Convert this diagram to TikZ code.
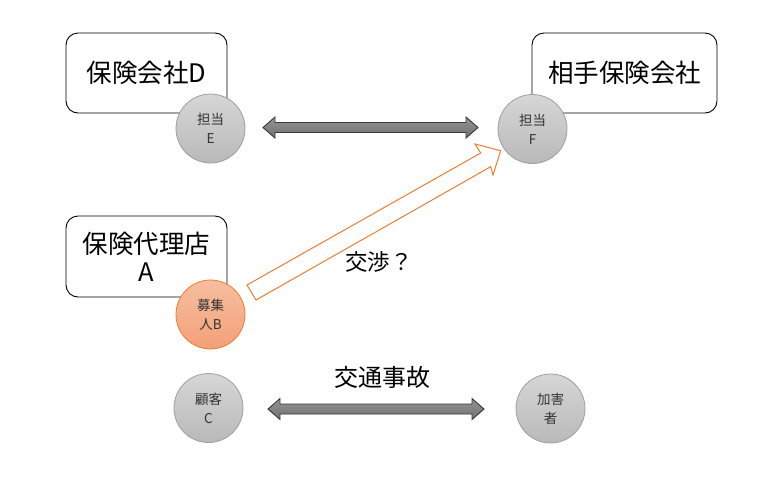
\documentclass[tikz,border=0pt]{standalone}
\usepackage{fontspec}
\setmainfont{Noto Sans CJK JP}
\begin{document}
\begin{tikzpicture}[x=1pt,y=-1pt,
  company/.style={draw=black, line width=0.9pt, rounded corners=12pt, fill=white, align=center, font=\fontsize{25.5}{28}\selectfont, inner sep=0pt},
  person/.style={circle, draw=gray!75, line width=0.8pt, top color=gray!32, bottom color=gray!55, minimum size=69pt, inner sep=0pt, align=center, text=black!80, font=\fontsize{13.5}{19}\selectfont},
  agent/.style={person, draw={rgb,255:red,237;green,125;blue,49}, top color={rgb,255:red,247;green,190;blue,160}, bottom color={rgb,255:red,243;green,160;blue,120}},
  blockarrow/.style={draw=black!78, line width=0.9pt, top color=black!42, bottom color=black!56},
  hollow/.style={draw={rgb,255:red,237;green,125;blue,49}, line width=1pt, fill=white, line join=miter},
  label/.style={font=\fontsize{22.5}{26}\selectfont, inner sep=0pt}
]
\useasboundingbox (0,0) rectangle (784,491);
\fill[white] (0,0) rectangle (784,491);

% companies
\node[company, minimum width=161pt, minimum height=80pt] (D) at (146.5,73) {保険会社D};
\node[company, minimum width=185pt, minimum height=80pt] (O) at (624.5,73) {相手保険会社};
\node[company, minimum width=161pt, minimum height=81pt] (A) at (146.5,256.5) {保険代理店\\A};

% persons
\node[person] (E) at (210.5,128.5) {担当\\E};
\node[person] (F) at (532.5,129) {担当\\F};
\node[agent] (B) at (210.5,314.5) {募集\\人B};
\node[person] (C) at (208.5,408) {顧客\\C};
\node[person] (G) at (550.5,408.5) {加害\\者};

% double arrow E <-> F
\draw[blockarrow] (263,127.5) -- (275,117) -- (275,122.5) -- (466,122.5) -- (466,117) -- (478,127.5)
  -- (466,138) -- (466,132.5) -- (275,132.5) -- (275,138) -- cycle;

% double arrow C <-> G
\draw[blockarrow] (268,409) -- (280,398.5) -- (280,404) -- (472,404) -- (472,398.5) -- (484,409)
  -- (472,419.5) -- (472,414) -- (280,414) -- (280,419.5) -- cycle;

% hollow arrow B -> F
\draw[hollow] (247,285) -- (480.7,153) -- (475,144) -- (500.7,150.7) -- (493,175) -- (490.7,166.7) -- (256,300) -- cycle;

% labels
\node[label] (neg) at (379,262) {交渉？};
\node[label, font=\fontsize{24}{27}\selectfont] (acc) at (382,377) {交通事故};
\end{tikzpicture}
\end{document}
